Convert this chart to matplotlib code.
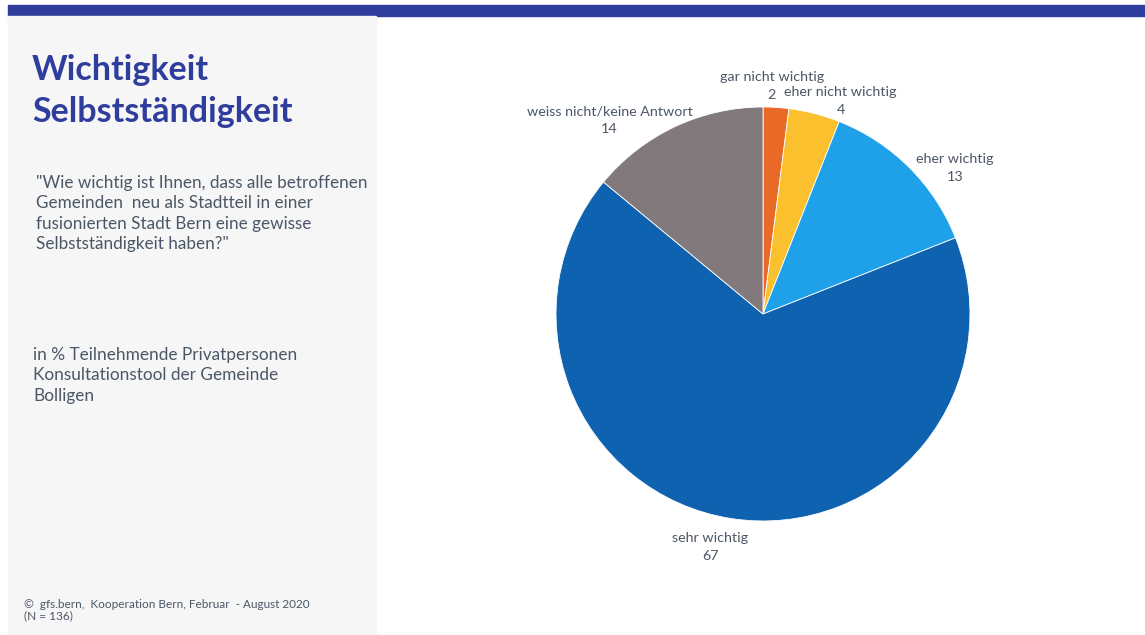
import numpy as np
import matplotlib.pyplot as plt
from matplotlib.patches import Rectangle

plt.rcParams['font.family'] = ['Lato', 'DejaVu Sans']

# Anteile in %, im Uhrzeigersinn ab 12 Uhr
categories = ['gar nicht wichtig', 'eher nicht wichtig', 'eher wichtig',
              'sehr wichtig', 'weiss nicht/keine Antwort']
values = [2, 4, 13, 67, 14]
colors = ['#E96A26', '#FBC02D', '#1FA1E9', '#0E62AF', '#82797C']

# Verschiebung der Beschriftungen in Pixeln (rechts, unten), damit sie sich nicht überlappen
label_nudge = [(-6, 8), (19, 16), (25, 21), (-16, 0), (-53, 20)]

TITLE = 'Wichtigkeit\nSelbstständigkeit'
QUESTION = ('"Wie wichtig ist Ihnen, dass alle betroffenen\n'
            'Gemeinden  neu als Stadtteil in einer\n'
            'fusionierten Stadt Bern eine gewisse\n'
            'Selbstständigkeit haben?"')
BASE = ('in % Teilnehmende Privatpersonen\n'
        'Konsultationstool der Gemeinde\n'
        'Bolligen')
SOURCE = '©  gfs.bern,  Kooperation Bern, Februar  - August 2020\n(N = 136)'

W, H = 1145, 635
TEXT_COLOR = '#4B5766'
NAVY = '#2F3D9C'

fig = plt.figure(figsize=(W / 100, H / 100), dpi=100, facecolor='white')

# Balken oben und graues Seitenpanel
fig.patches.append(Rectangle((8 / W, 1 - 15.5 / H), 1, 10.5 / H,
                             transform=fig.transFigure, color=NAVY, zorder=0))
fig.patches.append(Rectangle((8 / W, 0), (376 - 8) / W, 1 - 15.5 / H,
                             transform=fig.transFigure, color='#F6F6F6', zorder=0))

fig.text(32 / W, 1 - 54 / H, TITLE, fontsize=24.5, fontweight='bold', color=NAVY,
         va='top', ha='left', linespacing=1.4)
fig.text(36 / W, 1 - 175 / H, QUESTION, fontsize=12.3, color=TEXT_COLOR,
         va='top', ha='left', linespacing=1.34)
fig.text(33 / W, 1 - 347 / H, BASE, fontsize=12.4, color=TEXT_COLOR,
         va='top', ha='left', linespacing=1.34)
fig.text(24 / W, 1 - 599 / H, SOURCE, fontsize=8.5, color=TEXT_COLOR,
         va='top', ha='left', linespacing=1.0)

# Kreisdiagramm
cx, cy, r = 763, 314, 207
ax = fig.add_axes([(cx - r) / W, (H - cy - r) / H, 2 * r / W, 2 * r / H])
wedges, _ = ax.pie(values, colors=colors, startangle=90, counterclock=False,
                   radius=1, wedgeprops={'linewidth': 0.6, 'edgecolor': 'white'})

# Beschriftung: Kategorie oben, Wert darunter, ausserhalb des Kreises
half_line = 9 / r
for w, cat, val, (dx, dy) in zip(wedges, categories, values, label_nudge):
    ang = np.deg2rad((w.theta1 + w.theta2) / 2)
    x = 1.14 * np.cos(ang) + dx / r
    y = 1.14 * np.sin(ang) - dy / r
    ax.text(x, y + half_line, cat, ha='center', va='center', fontsize=10.3,
            color=TEXT_COLOR, clip_on=False)
    ax.text(x, y - half_line, str(val), ha='center', va='center', fontsize=10.3,
            color=TEXT_COLOR, clip_on=False)

ax.set_xlim(-1, 1)
ax.set_ylim(-1, 1)
ax.set_aspect('equal')
ax.axis('off')

fig.savefig('out.png', dpi=100, facecolor='white')
